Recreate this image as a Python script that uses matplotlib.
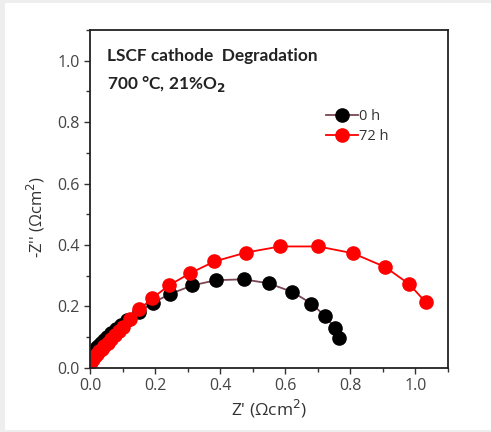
import matplotlib
matplotlib.use("Agg")
import matplotlib.pyplot as plt
from matplotlib.patches import Rectangle
from matplotlib.ticker import MultipleLocator

# Nyquist data, LSCF cathode at 700 C in air
z_re_0h = [0.002, 0.006, 0.011, 0.017, 0.024, 0.032, 0.041, 0.052, 0.064, 0.078,
           0.093, 0.111, 0.150, 0.192, 0.245, 0.313, 0.386, 0.471, 0.548, 0.621,
           0.680, 0.721, 0.752, 0.764]
z_im_0h = [0.040, 0.050, 0.056, 0.063, 0.071, 0.080, 0.089, 0.100, 0.112, 0.125,
           0.139, 0.156, 0.181, 0.212, 0.240, 0.268, 0.285, 0.288, 0.275, 0.247,
           0.209, 0.169, 0.130, 0.097]

z_re_72h = [0.003, 0.008, 0.013, 0.019, 0.026, 0.034, 0.043, 0.053, 0.064, 0.076,
            0.088, 0.101, 0.121, 0.150, 0.190, 0.241, 0.307, 0.381, 0.478, 0.583,
            0.701, 0.807, 0.907, 0.981, 1.032]
z_im_72h = [0.020, 0.030, 0.037, 0.045, 0.053, 0.062, 0.071, 0.082, 0.093, 0.105,
            0.118, 0.134, 0.159, 0.190, 0.226, 0.268, 0.308, 0.346, 0.375, 0.395,
            0.395, 0.373, 0.328, 0.272, 0.213]

plt.rcParams['font.family'] = ['Open Sans', 'DejaVu Sans']

fig = plt.figure(figsize=(4.91, 4.32), dpi=100, facecolor='#eeeeee')
fig.patches.append(Rectangle((5 / 491, 2 / 432), 486 / 491, 427 / 432,
                             transform=fig.transFigure, facecolor='white',
                             edgecolor='none', zorder=-1))

ax = fig.add_axes([0.1843, 0.1488, 0.728, 0.7817])
ax.plot(z_re_0h, z_im_0h, '-o', color='#7a4652', mfc='black', mec='black',
        ms=9.5, lw=1.3, label='0 h')
ax.plot(z_re_72h, z_im_72h, '-o', color='red', mfc='red', mec='red',
        ms=9.5, lw=1.3, label='72 h')

ax.set_xlim(0, 1.1)
ax.set_ylim(0, 1.1)
ax.xaxis.set_major_locator(MultipleLocator(0.2))
ax.xaxis.set_minor_locator(MultipleLocator(0.1))
ax.yaxis.set_major_locator(MultipleLocator(0.2))
ax.yaxis.set_minor_locator(MultipleLocator(0.1))
ax.tick_params(which='major', direction='out', length=4, width=1, labelsize=11.5,
               colors='#333333', labelcolor='#444444')
ax.tick_params(which='minor', direction='out', length=3, width=1, colors='#333333')
for s in ax.spines.values():
    s.set_linewidth(1.3)
    s.set_color('#222222')

ax.set_xlabel("Z' (\u03a9cm$^2$)", fontsize=12.5, color='#333333', labelpad=3)
ax.set_ylabel("-Z'' (\u03a9cm$^2$)", fontsize=12, color='#333333')
ax.yaxis.set_label_coords(-0.122, 0.446)

ax.text(0.045, 0.909, 'LSCF cathode  Degradation', transform=ax.transAxes,
        family=['Lato', 'DejaVu Sans'], fontweight='bold', fontsize=12.4,
        color='#222222')
ax.text(0.045, 0.824, '700 \u00b0C, 21%O$_\\mathbf{2}$', transform=ax.transAxes,
        family=['Lato', 'DejaVu Sans'], fontweight='bold', fontsize=12.4,
        color='#222222')

ax.legend(loc='upper left', bbox_to_anchor=(0.63, 0.795), frameon=False,
          fontsize=10.5, handlelength=2.2, handletextpad=0.1, borderpad=0.2,
          labelspacing=0.3, labelcolor='#333333')

fig.savefig('out.png', dpi=100, facecolor=fig.get_facecolor())
